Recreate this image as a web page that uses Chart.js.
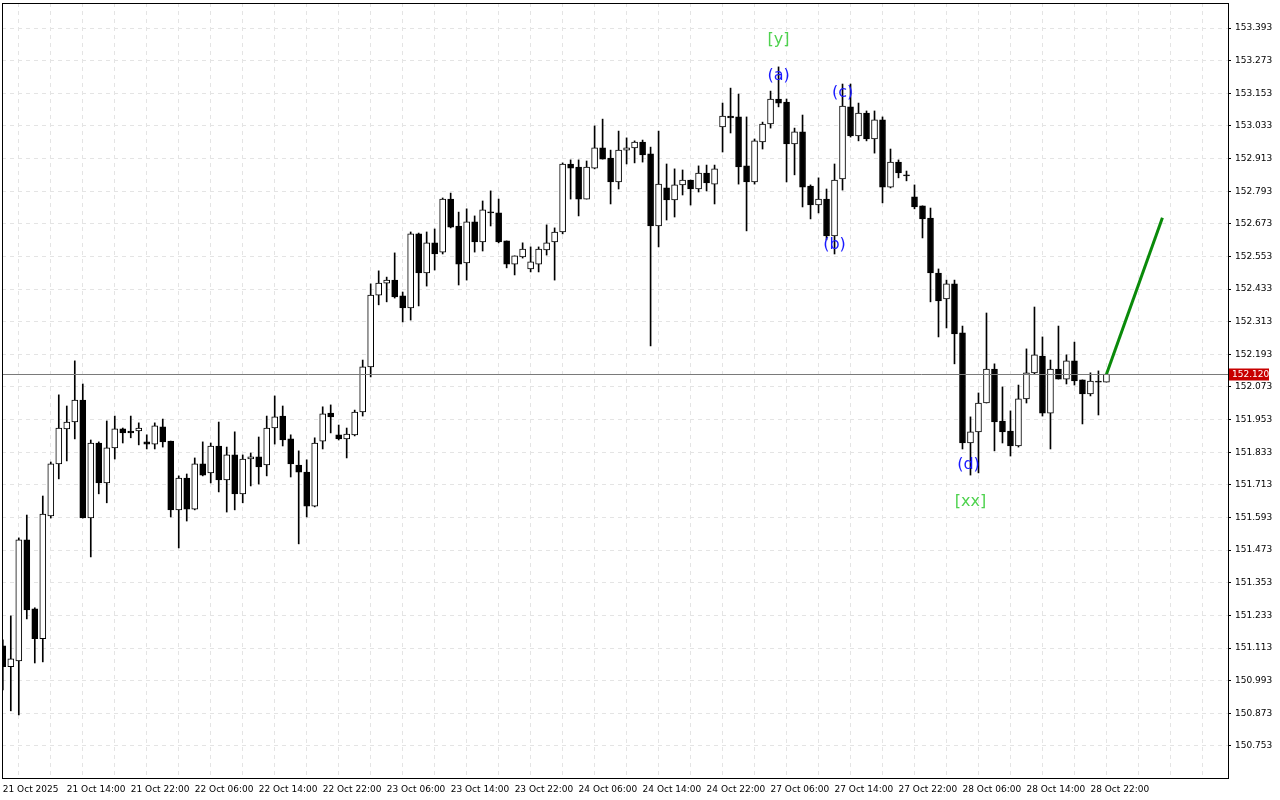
<!DOCTYPE html>
<html><head><meta charset="utf-8">
<script src="https://cdn.jsdelivr.net/npm/chart.js@4.4.1/dist/chart.umd.min.js"></script>
<style>html,body{margin:0;padding:0;background:#fff}#w{width:1280px;height:800px}</style>
</head><body><div id="w"><canvas id="c"></canvas></div>
<script>
const timeLabels=["21 Oct 2025","21 Oct 14:00","21 Oct 22:00","22 Oct 06:00","22 Oct 14:00","22 Oct 22:00","23 Oct 06:00","23 Oct 14:00","23 Oct 22:00","24 Oct 06:00","24 Oct 14:00","24 Oct 22:00","27 Oct 06:00","27 Oct 14:00","27 Oct 22:00","28 Oct 06:00","28 Oct 14:00","28 Oct 22:00"];
const priceTicks=[150.753,150.873,150.993,151.113,151.233,151.353,151.473,151.593,151.713,151.833,151.953,152.073,152.193,152.313,152.433,152.553,152.673,152.793,152.913,153.033,153.153,153.273,153.393];
const opens=[151.121,151.044,151.066,151.511,151.257,151.147,151.599,151.790,151.919,151.944,152.025,151.591,151.867,151.720,151.849,151.919,151.911,151.911,151.871,151.863,151.926,151.874,151.621,151.738,151.624,151.790,151.757,151.856,151.731,151.823,151.680,151.808,151.816,151.786,151.922,151.966,151.882,151.786,151.760,151.635,151.874,151.977,151.897,151.882,151.897,151.981,152.147,152.411,152.455,152.466,152.408,152.364,152.636,152.492,152.603,152.569,152.764,152.665,152.529,152.680,152.606,152.717,152.713,152.610,152.525,152.551,152.507,152.525,152.577,152.606,152.643,152.893,152.882,152.764,152.878,152.952,152.915,152.827,152.944,152.952,152.974,152.930,152.665,152.805,152.761,152.816,152.834,152.801,152.860,152.819,153.029,153.069,153.066,152.886,152.827,152.974,153.040,153.132,153.121,152.967,153.011,152.812,152.742,152.764,152.628,152.838,153.103,152.996,153.080,152.985,153.055,152.808,152.900,152.853,152.772,152.739,152.694,152.492,152.397,152.452,152.272,151.867,151.908,152.014,152.139,151.948,151.911,151.856,152.029,152.125,152.187,151.977,152.139,152.102,152.169,152.099,152.047,152.095,152.091];
const highs=[151.143,151.231,151.518,151.602,151.261,151.672,151.797,152.044,152.003,152.169,152.084,151.878,151.871,151.948,151.966,151.922,151.966,151.941,151.897,151.941,151.955,151.874,151.746,151.753,151.812,151.871,151.867,151.944,151.852,151.908,151.823,151.830,151.889,151.966,152.040,152.003,151.897,151.838,151.805,151.886,152.000,152.007,151.933,151.922,151.988,152.172,152.452,152.500,152.477,152.566,152.422,152.643,152.639,152.643,152.654,152.768,152.786,152.716,152.728,152.702,152.757,152.794,152.764,152.610,152.555,152.603,152.588,152.588,152.669,152.658,152.897,152.908,152.908,152.904,153.033,153.058,152.944,153.014,152.989,152.978,152.981,152.955,153.014,152.893,152.875,152.871,152.834,152.886,152.889,152.889,153.117,153.172,153.150,153.066,152.985,153.047,153.161,153.250,153.132,153.025,153.073,152.816,152.842,152.801,152.893,153.187,153.187,153.117,153.088,153.088,153.066,152.948,152.908,152.867,152.816,152.739,152.731,152.507,152.466,152.466,152.297,151.963,152.051,152.345,152.158,152.073,151.985,152.080,152.213,152.367,152.257,152.172,152.297,152.191,152.238,152.099,152.125,152.132,152.120];
const lows=[150.959,150.882,150.867,151.220,151.058,151.062,151.591,151.735,151.801,151.882,151.591,151.448,151.680,151.647,151.808,151.867,151.886,151.860,151.845,151.845,151.852,151.595,151.481,151.580,151.621,151.746,151.720,151.687,151.613,151.621,151.647,151.709,151.716,151.746,151.863,151.856,151.742,151.496,151.595,151.632,151.845,151.904,151.878,151.812,151.893,151.966,152.110,152.375,152.386,152.400,152.312,152.319,152.371,152.444,152.503,152.562,152.658,152.448,152.466,152.569,152.573,152.665,152.603,152.511,152.485,152.547,152.496,152.496,152.558,152.466,152.636,152.764,152.702,152.764,152.875,152.911,152.746,152.801,152.893,152.897,152.900,152.224,152.588,152.687,152.698,152.779,152.742,152.790,152.794,152.746,152.937,153.007,152.819,152.647,152.819,152.948,153.025,153.103,152.827,152.853,152.735,152.691,152.713,152.614,152.562,152.797,152.992,152.978,152.978,152.933,152.750,152.805,152.842,152.831,152.728,152.621,152.386,152.257,152.290,152.158,151.845,151.749,151.757,152.014,151.838,151.867,151.819,151.852,152.014,152.121,151.966,151.845,152.102,152.084,152.080,151.937,152.040,151.970,152.091];
const closes=[151.044,151.073,151.511,151.253,151.147,151.606,151.790,151.922,151.944,152.025,151.591,151.867,151.720,151.849,151.919,151.904,151.904,151.922,151.863,151.930,151.871,151.621,151.738,151.624,151.790,151.749,151.856,151.731,151.823,151.680,151.808,151.816,151.779,151.922,151.963,151.878,151.790,151.760,151.635,151.867,151.974,151.963,151.882,151.900,151.981,152.147,152.411,152.455,152.466,152.404,152.364,152.636,152.492,152.603,152.562,152.764,152.661,152.525,152.680,152.606,152.724,152.713,152.606,152.525,152.555,152.580,152.533,152.580,152.603,152.643,152.893,152.878,152.764,152.882,152.952,152.911,152.827,152.944,152.952,152.974,152.926,152.665,152.819,152.761,152.816,152.834,152.801,152.860,152.823,152.875,153.069,153.062,152.882,152.827,152.978,153.040,153.132,153.117,152.967,153.011,152.808,152.742,152.764,152.628,152.834,153.106,152.996,153.080,152.985,153.055,152.808,152.900,152.860,152.849,152.735,152.691,152.492,152.389,152.452,152.268,151.867,151.908,152.014,152.139,151.944,151.908,151.856,152.029,152.125,152.191,151.977,152.139,152.102,152.169,152.095,152.047,152.095,152.091,152.120];
const currentPrice=152.120;
const forecastX=[138,145];
const forecastY=[152.120,152.695];
const waveLabels=[{t:"[y]",x:97,y:153.349,c:"#4fd24f"},{t:"(a)",x:97,y:153.217,c:"#1a1aff"},{t:"(c)",x:105,y:153.154,c:"#1a1aff"},{t:"(b)",x:104,y:152.595,c:"#1a1aff"},{t:"(d)",x:120.75,y:151.786,c:"#1a1aff"},{t:"[xx]",x:121,y:151.650,c:"#4fd24f"}];

const n=opens.length;
const wicks=[],bodies=[],bodyFill=[];
for(let i=0;i<n;i++){
  wicks.push({x:i,y:[lows[i],highs[i]]});
  const lo=Math.min(opens[i],closes[i]),hi=Math.max(opens[i],closes[i]);
  bodies.push({x:i,y:[lo,hi===lo?hi+0.0015:hi]});
  bodyFill.push(closes[i]>=opens[i]?'#ffffff':'#000000');
}
const overlay={id:'overlay',afterDatasetsDraw(ch){
  const {ctx,scales:{x,y},chartArea:a}=ch;
  ctx.save();
  const py=Math.round(y.getPixelForValue(currentPrice))+0.5;
  ctx.strokeStyle='#7a7a7a';ctx.lineWidth=1;
  ctx.beginPath();ctx.moveTo(a.left,py);ctx.lineTo(a.right,py);ctx.stroke();
  ctx.font='16px "DejaVu Sans"';ctx.textAlign='center';ctx.textBaseline='middle';
  waveLabels.forEach(l=>{ctx.fillStyle=l.c;ctx.fillText(l.t,x.getPixelForValue(l.x),y.getPixelForValue(l.y));});
  ctx.fillStyle='#c80000';ctx.fillRect(a.right+1,py-6,40,12);
  ctx.fillStyle='#fff';ctx.font='9px "DejaVu Sans"';ctx.textAlign='left';
  ctx.fillText(currentPrice.toFixed(3),a.right+4,py+0.5);
  ctx.restore();
}};
new Chart(document.getElementById('c'),{
  type:'bar',
  data:{datasets:[
    {type:'line',data:forecastX.map((v,i)=>({x:v,y:forecastY[i]})),borderColor:'#0a8a0a',borderWidth:3,pointRadius:0,order:0},
    {data:bodies,backgroundColor:bodyFill,borderColor:'#000',borderWidth:1,borderSkipped:false,barThickness:6,grouped:false,order:1},
    {data:wicks,backgroundColor:'#000',borderWidth:0,barThickness:1,grouped:false,order:2}
  ]},
  options:{responsive:true,maintainAspectRatio:false,animation:false,
    layout:{padding:{left:2,top:3,right:0,bottom:0}},
    plugins:{legend:{display:false},tooltip:{enabled:false}},
    scales:{
      x:{type:'linear',min:-0.1,max:153.2,offset:false,
        afterBuildTicks(s){const t=[];for(let v=0;v<=152;v+=4)t.push({value:v});s.ticks=t;},
        afterFit(s){s.height=22;s.paddingLeft=0;s.paddingRight=0;},
        ticks:{autoSkip:false,maxRotation:0,align:'start',padding:6,color:'#000',font:{size:9,family:'"DejaVu Sans"'},
          callback(v){return v%8===0&&v/8<timeLabels.length?timeLabels[v/8]:'';}},
        grid:{color:'#e4e4e4',borderDash:[4,4],drawTicks:false},
        border:{display:true,color:'#000',dash:[4,4]}},
      y:{position:'right',min:150.635,max:153.485,
        afterBuildTicks(s){s.ticks=priceTicks.map(v=>({value:v}));},
        afterFit(s){s.width=52;s.paddingTop=0;s.paddingBottom=0;},
        ticks:{color:'#000',padding:4,font:{size:9,family:'"DejaVu Sans"'},callback:v=>v.toFixed(3)},
        grid:{color:'#e4e4e4',tickLength:3,drawTicks:true,tickColor:'#000'},
        border:{display:true,color:'#000',dash:[4,4]}}
    }},
  plugins:[overlay,{id:'frame',afterDraw(ch){const {ctx,chartArea:a}=ch;ctx.save();ctx.strokeStyle='#000';ctx.lineWidth=1;ctx.strokeRect(a.left+0.5,a.top+0.5,a.right-a.left,a.bottom-a.top);ctx.restore();}}]
});
</script></body></html>
